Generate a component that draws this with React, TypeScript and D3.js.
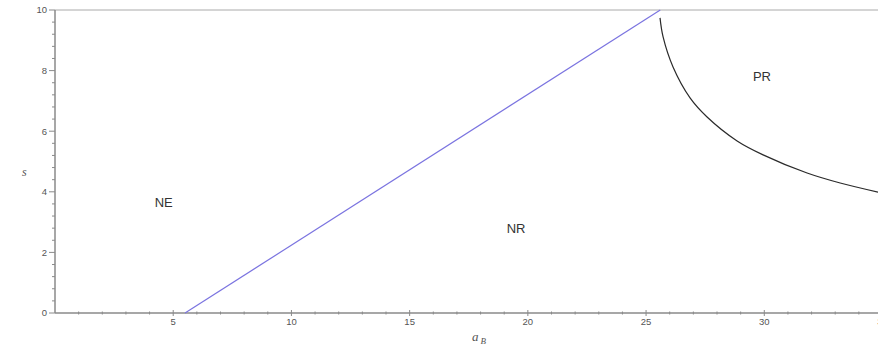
import { useMemo } from 'react';
import * as d3 from 'd3';

const xMajorTicks = [5, 10, 15, 20, 25, 30, 35];
const yMajorTicks = [0, 2, 4, 6, 8, 10];

// straight boundary NE | NR (blue)
const blueX = [5.5, 25.6];
const blueY = [0, 10];

// curved boundary NR | PR (black)
const curveX = [25.59, 25.72, 26.14, 26.86, 27.58, 28.85, 29.95, 31.81, 33.21, 34.81];
const curveY = [9.74, 9.11, 8.12, 7.1, 6.47, 5.68, 5.22, 4.62, 4.29, 3.99];

const regionNames = ['NE', 'NR', 'PR'];
const regionX = [4.6, 19.5, 29.9];
const regionY = [3.66, 2.8, 7.8];

const W = 878;
const H = 347;

export default function App() {
  const x = useMemo(() => d3.scaleLinear().domain([0, 35]).range([55, 882.5]), []);
  const y = useMemo(() => d3.scaleLinear().domain([0, 10]).range([313, 10]), []);

  const xMinor = d3.range(1, 35, 1).filter((d) => d % 5 !== 0);
  const yMinor = d3.range(0.4, 10, 0.4).filter((d) => Math.abs(d / 2 - Math.round(d / 2)) > 0.01);

  const line = d3
    .line<[number, number]>()
    .x((d) => x(d[0]))
    .y((d) => y(d[1]));

  const bluePts = blueX.map((v, i) => [v, blueY[i]] as [number, number]);
  const curvePts = curveX.map((v, i) => [v, curveY[i]] as [number, number]);
  const bluePath = line(bluePts)!;
  const curvePath = line.curve(d3.curveCatmullRom.alpha(0.5))(curvePts)!;

  const axisCol = '#8a8a8a';
  const tickFont = { fontFamily: 'Liberation Sans, Arial, sans-serif', fontSize: 9.5, fill: '#555' };

  return (
    <svg
      width={W}
      height={H}
      style={{ position: 'absolute', left: 0, top: 0, background: '#fff' }}
    >
      <rect width={W} height={H} fill="#fff" />
      {/* top frame */}
      <line x1={x(0)} x2={W} y1={y(10)} y2={y(10)} stroke="#aaa" strokeWidth={1} />

      {/* y axis */}
      <line x1={x(0)} x2={x(0)} y1={y(0)} y2={y(10)} stroke={axisCol} strokeWidth={1.5} />
      {yMajorTicks.map((t) => (
        <g key={'ym' + t}>
          <line x1={x(0) - 6} x2={x(0)} y1={y(t)} y2={y(t)} stroke={axisCol} />
          <text x={x(0) - 8} y={y(t)} dy="0.35em" textAnchor="end" {...tickFont}>
            {t}
          </text>
        </g>
      ))}
      {yMinor.map((t) => (
        <line key={'yn' + t} x1={x(0) - 3} x2={x(0)} y1={y(t)} y2={y(t)} stroke={axisCol} />
      ))}

      {/* x axis */}
      <line x1={x(0)} x2={W} y1={y(0)} y2={y(0)} stroke={axisCol} strokeWidth={1.5} />
      {xMajorTicks.map((t) => (
        <g key={'xm' + t}>
          <line x1={x(t)} x2={x(t)} y1={y(0) - 3} y2={y(0) + 3} stroke={axisCol} />
          <text x={x(t)} y={y(0) + 12} textAnchor="middle" {...tickFont}>
            {t}
          </text>
        </g>
      ))}
      {xMinor.map((t) => (
        <line key={'xn' + t} x1={x(t)} x2={x(t)} y1={y(0) - 1.5} y2={y(0) + 1.5} stroke={axisCol} />
      ))}

      {/* axis titles */}
      <text
        x={22}
        y={176}
        fontFamily="Liberation Serif, serif"
        fontStyle="italic"
        fontSize={12}
        fill="#555"
      >
        s
      </text>
      <text x={472} y={341} fontFamily="Liberation Serif, serif" fontStyle="italic" fill="#555">
        <tspan fontSize={13}>a</tspan>
        <tspan fontSize={9} dx={2} dy={3}>
          B
        </tspan>
      </text>

      {/* boundaries */}
      <path d={bluePath} fill="none" stroke="#7b74e0" strokeWidth={1.2} />
      <path d={curvePath} fill="none" stroke="#2a2a2a" strokeWidth={1.2} />

      {/* region labels */}
      {regionNames.map((n, i) => (
        <text
          key={n}
          x={x(regionX[i])}
          y={y(regionY[i])}
          dy="0.35em"
          textAnchor="middle"
          fontFamily="Liberation Sans, Arial, sans-serif"
          fontSize={13}
          fill="#333"
        >
          {n}
        </text>
      ))}
    </svg>
  );
}
